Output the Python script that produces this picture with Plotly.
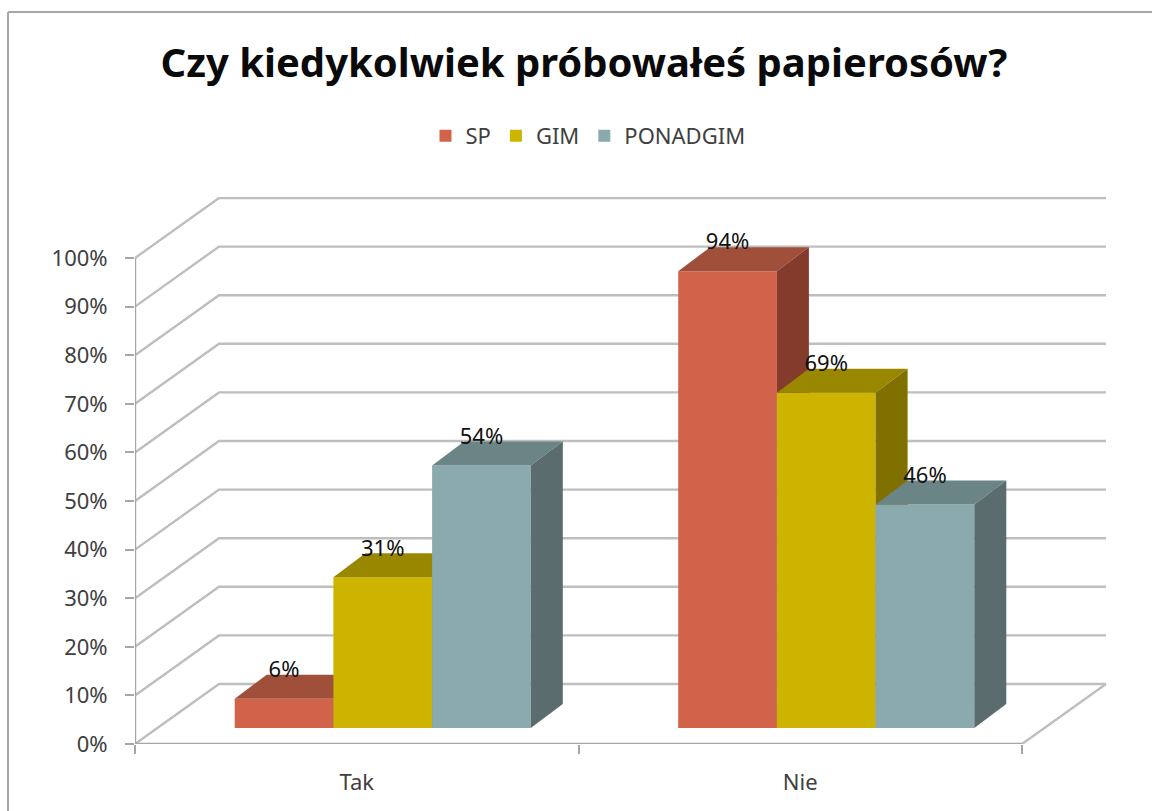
import plotly.graph_objects as go

categories = ["Tak", "Nie"]
series_names = ["SP", "GIM", "PONADGIM"]
sp_values = [6, 94]
gim_values = [31, 69]
ponadgim_values = [54, 46]
y_ticks = list(range(0, 101, 10))

W, H = 1152, 811
X0_PX, X1_PX = 135, 1107     # plot span in pixels (front-left to back-right)
Y0_PX, Y1_PX = 744, 197      # 0 % front line and 100 % back line
PX_X = 443.5                 # pixels per category
PX_Y = 4.86                  # pixels per percent

x_min = -0.5
x_max = x_min + (X1_PX - X0_PX) / PX_X
y_max = (Y0_PX - Y1_PX) / PX_Y

# oblique projection of the chart box
wall_dx = 84 / PX_X
wall_dy = 60 / PX_Y
# bars
bar_w = 98.7 / PX_X
bar_base = 16 / PX_Y
group_shift = 26 / PX_X
bar_dx = 32 / PX_X
bar_dy = 24 / PX_Y
label_gap = 5.6

front = ["#D0634A", "#CDB400", "#8BAAAD"]
top_c = ["#A04F3A", "#9A8700", "#6B8486"]
side_c = ["#833C2C", "#7F7000", "#5A6C6E"]
GRID = "#BEBEBE"
AXIS = "#A6A6A6"
FONT = "Noto Sans"

fig = go.Figure()

# walls / gridlines on the base axes
for v in y_ticks:
    fig.add_trace(go.Scatter(
        x=[x_min, x_min + wall_dx, x_min + 2 + wall_dx],
        y=[v, v + wall_dy, v + wall_dy],
        mode="lines", line=dict(color=GRID, width=2.4),
        showlegend=False, hoverinfo="skip"))
# floor edge and axes
fig.add_trace(go.Scatter(
    x=[x_min + 2, x_min + 2 + wall_dx], y=[0, wall_dy],
    mode="lines", line=dict(color=GRID, width=2.4),
    showlegend=False, hoverinfo="skip"))
fig.add_trace(go.Scatter(
    x=[x_min, x_min + 2], y=[0, 0],
    mode="lines", line=dict(color=AXIS, width=2.4),
    showlegend=False, hoverinfo="skip"))
fig.add_trace(go.Scatter(
    x=[x_min, x_min], y=[0, 100],
    mode="lines", line=dict(color=AXIS, width=2.4),
    showlegend=False, hoverinfo="skip"))

all_values = [sp_values, gim_values, ponadgim_values]
cat_x = list(range(len(categories)))
label_x, label_y, label_t = [], [], []

for s, (name, vals) in enumerate(zip(series_names, all_values)):
    ax = f"x{s + 2}"
    ay = f"y{s + 2}"
    centers = [c + group_shift + (s - 1) * bar_w for c in cat_x]
    fig.add_trace(go.Bar(
        x=centers, y=vals, base=[bar_base] * len(vals), width=bar_w,
        name=name, marker=dict(color=front[s], line=dict(width=0)),
        xaxis=ax, yaxis=ay, hoverinfo="skip"))
    for cx, v in zip(centers, vals):
        l, r = cx - bar_w / 2, cx + bar_w / 2
        t = bar_base + v
        fig.add_trace(go.Scatter(
            x=[l, r, r + bar_dx, l + bar_dx, l],
            y=[t, t, t + bar_dy, t + bar_dy, t],
            mode="lines", fill="toself", fillcolor=top_c[s],
            line=dict(width=0), showlegend=False, hoverinfo="skip",
            xaxis=ax, yaxis=ay))
        fig.add_trace(go.Scatter(
            x=[r, r + bar_dx, r + bar_dx, r, r],
            y=[t, t + bar_dy, bar_base + bar_dy, bar_base, t],
            mode="lines", fill="toself", fillcolor=side_c[s],
            line=dict(width=0), showlegend=False, hoverinfo="skip",
            xaxis=ax, yaxis=ay))
        label_x.append(cx)
        label_y.append(t + label_gap)
        label_t.append(f"{v}%")

fig.add_trace(go.Scatter(
    x=label_x, y=label_y, text=label_t, mode="text",
    textposition="middle center",
    textfont=dict(family=FONT, size=22, color="#111111"),
    showlegend=False, hoverinfo="skip", xaxis="x4", yaxis="y4"))

dom_x = [X0_PX / W, X1_PX / W]
dom_y = [(H - Y0_PX) / H, (H - Y1_PX) / H]

layout = dict(
    width=W, height=H,
    margin=dict(l=0, r=0, t=0, b=0),
    paper_bgcolor="white", plot_bgcolor="rgba(0,0,0,0)",
    barmode="overlay",
    showlegend=True,
    font=dict(family=FONT, color="#404040"),
    title=dict(text="<b>Czy kiedykolwiek próbowałeś papierosów?</b>",
               x=584 / W, xanchor="center", y=1 - 63 / H, yanchor="middle",
               font=dict(family=FONT, size=40, color="#0A0A0A")),
    legend=dict(orientation="h",
                x=588 / W, xanchor="center", y=1 - 136 / H,
                yanchor="middle", font=dict(family=FONT, size=22, color="#404040"),
                itemwidth=30, bgcolor="rgba(0,0,0,0)", traceorder="normal"),
    xaxis=dict(domain=dom_x, range=[x_min, x_max], showgrid=False, zeroline=False,
               showline=False, tickmode="array", tickvals=cat_x, ticktext=categories,
               ticks="", ticklabelstandoff=23, automargin=False,
               tickfont=dict(family=FONT, size=22, color="#404040"),
               minor=dict(tickmode="array", tickvals=[-0.5, 0.5, 1.5], ticks="outside",
                          ticklen=9, tickwidth=2, tickcolor=AXIS, showgrid=False),
               fixedrange=True),
    yaxis=dict(domain=dom_y, range=[0, y_max], showgrid=False, zeroline=False,
               showline=False, tickmode="array", tickvals=y_ticks,
               ticktext=[f"{v}%" for v in y_ticks], ticks="outside", ticklen=9,
               tickwidth=2, tickcolor=AXIS, ticklabelstandoff=13, automargin=False,
               tickfont=dict(family=FONT, size=22, color="#404040"),
               fixedrange=True),
    shapes=[
        dict(type="line", xref="paper", yref="paper", x0=8 / W, x1=8 / W, y0=0, y1=1 - 12 / H,
             line=dict(color="#A6A6A6", width=2)),
        dict(type="line", xref="paper", yref="paper", x0=8 / W, x1=1, y0=1 - 12 / H, y1=1 - 12 / H,
             line=dict(color="#A6A6A6", width=2)),
    ],
)
for i in range(2, 5):
    layout[f"xaxis{i}"] = dict(domain=dom_x, range=[x_min, x_max], overlaying="x",
                               visible=False, fixedrange=True, anchor=f"y{i}", automargin=False)
    layout[f"yaxis{i}"] = dict(domain=dom_y, range=[0, y_max], overlaying="y",
                               visible=False, fixedrange=True, anchor=f"x{i}", automargin=False)
fig.update_layout(**layout)

fig.write_html("out.html", config=dict(displayModeBar=False),
               post_script="document.body.style.margin='0';")
